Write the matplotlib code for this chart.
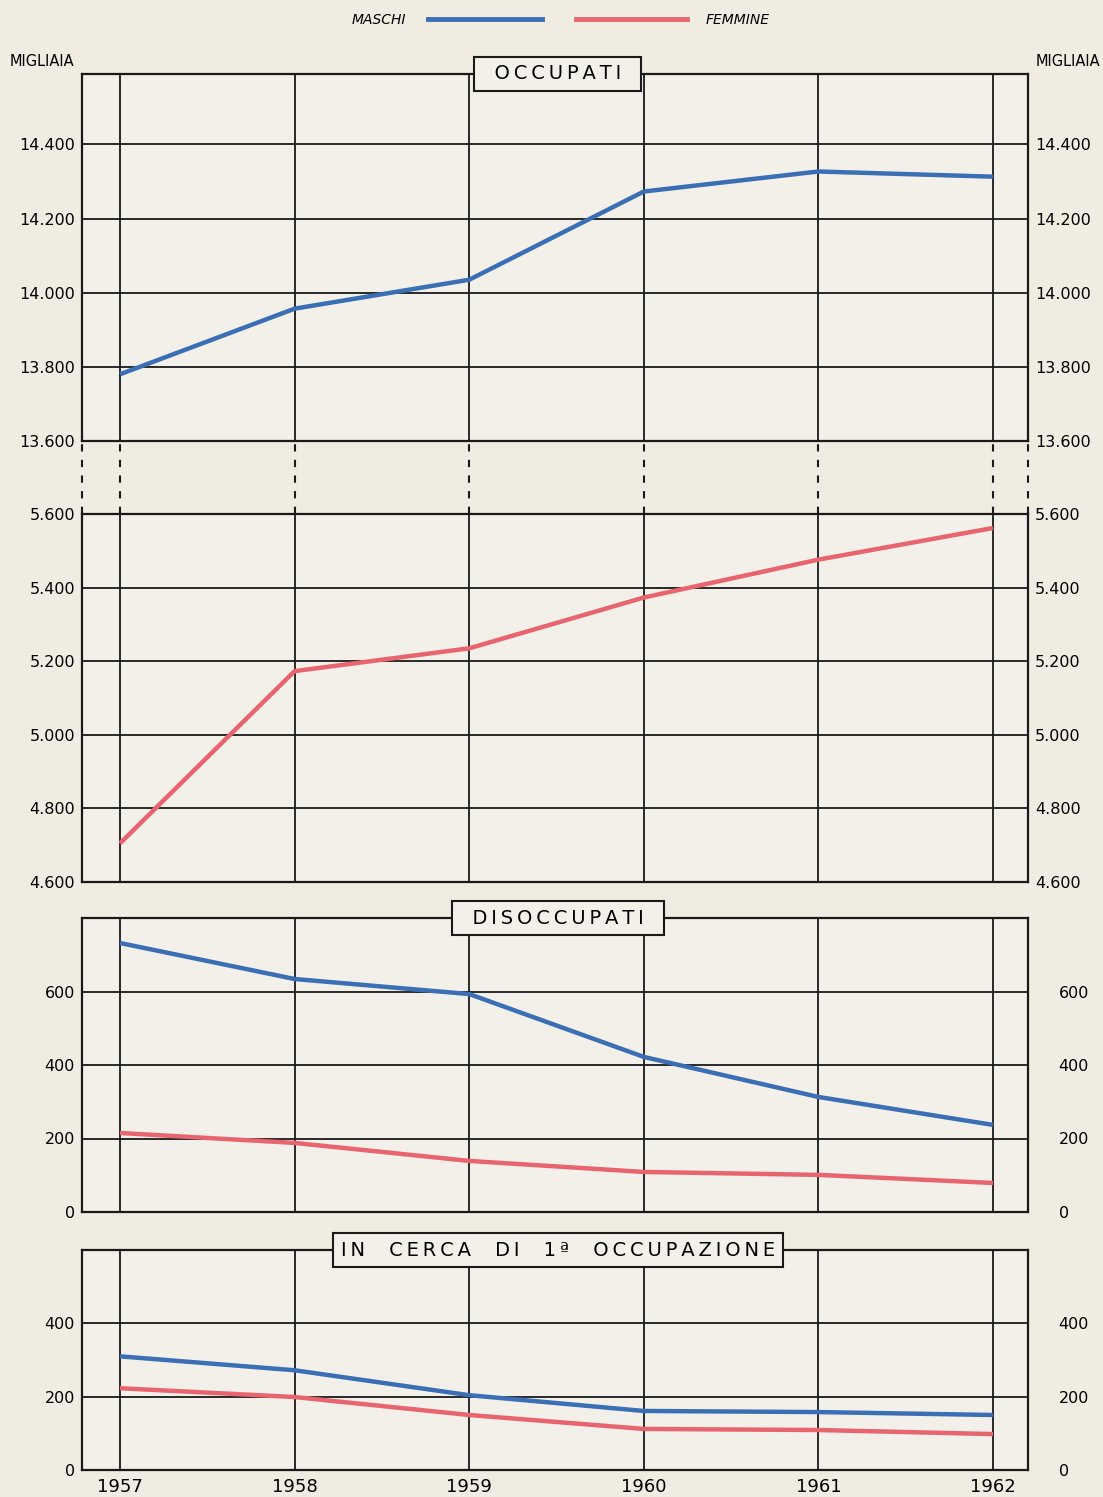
import numpy as np
import matplotlib
matplotlib.use('Agg')
import matplotlib.pyplot as plt
from matplotlib.lines import Line2D

# dati (migliaia)
anni = [1957, 1958, 1959, 1960, 1961, 1962]
occ_maschi = [13780, 13957, 14035, 14273, 14327, 14313]
occ_femmine = [4705, 5173, 5235, 5373, 5476, 5562]
dis_maschi = [732, 634, 593, 422, 313, 237]
dis_femmine = [215, 188, 139, 109, 101, 79]
cerca_maschi = [310, 272, 204, 161, 158, 150]
cerca_femmine = [223, 199, 150, 112, 109, 98]

tick_occ_m = [13600, 13800, 14000, 14200, 14400]
tick_occ_f = [4600, 4800, 5000, 5200, 5400, 5600]
tick_dis = [0, 200, 400, 600]
tick_cerca = [0, 200, 400]

BLU = '#3a6fb6'
ROSA = '#e8646f'
FONDO = '#f0ece2'
CARTA = '#f3f0e9'

W, H = 1103, 1497
X0, X1 = 82, 1028
XLIM = (1957 - 38 / 174.6, 1962 + 35 / 174.6)


def rect(top, bottom):
    return [X0 / W, 1 - bottom / H, (X1 - X0) / W, (bottom - top) / H]


def fmt(v):
    return f'{v:,}'.replace(',', '.')


def spaced(s):
    return '\u2009'.join(s)


fig = plt.figure(figsize=(W / 100, H / 100), dpi=100, facecolor=FONDO)
plt.rcParams['font.family'] = ['DejaVu Sans']


def pannello(top, bottom, ylim, ticks, pad_dx, bottom_labels=False):
    ax = fig.add_axes(rect(top, bottom))
    ax.set_facecolor(CARTA)
    ax.set_xlim(*XLIM)
    ax.set_ylim(*ylim)
    ax.set_xticks(anni)
    ax.set_yticks(ticks)
    ax.set_yticklabels([fmt(t) for t in ticks])
    ax.grid(True, color='#1a1a1a', lw=1.3)
    ax.set_axisbelow(True)
    for s in ax.spines.values():
        s.set_color('#1a1a1a')
        s.set_linewidth(1.6)
    ax.tick_params(axis='y', length=0, pad=5, labelsize=11.5,
                   labelright=False, right=False)
    ax.tick_params(axis='x', length=0, pad=6, labelsize=13,
                   labelbottom=bottom_labels)
    # etichette a destra
    tw = ax.twinx()
    tw.set_ylim(*ylim)
    tw.set_yticks(ticks)
    tw.set_yticklabels([fmt(t) for t in ticks])
    tw.tick_params(axis='y', length=0, pad=pad_dx, labelsize=11.5)
    for s in tw.spines.values():
        s.set_visible(False)
    return ax


ax1 = pannello(74, 441, (13600, 14590), tick_occ_m, 5)
ax2 = pannello(514, 882, (4600, 5600), tick_occ_f, 5)
ax3 = pannello(918, 1212, (0, 800), tick_dis, 22)
ax4 = pannello(1250, 1470, (0, 600), tick_cerca, 22, bottom_labels=True)

ax1.plot(anni, occ_maschi, color=BLU, lw=3.2, solid_capstyle='butt')
ax2.plot(anni, occ_femmine, color=ROSA, lw=3.2, solid_capstyle='butt')
ax3.plot(anni, dis_maschi, color=BLU, lw=3.2, solid_capstyle='butt')
ax3.plot(anni, dis_femmine, color=ROSA, lw=3.2, solid_capstyle='butt')
ax4.plot(anni, cerca_maschi, color=BLU, lw=3.2, solid_capstyle='butt')
ax4.plot(anni, cerca_femmine, color=ROSA, lw=3.2, solid_capstyle='butt')

# interruzione della scala tra maschi e femmine occupati
gap = fig.add_axes(rect(441, 514))
gap.set_xlim(*XLIM)
gap.set_ylim(0, 1)
gap.axis('off')
gap.vlines(anni + [XLIM[0], XLIM[1]], 0, 1, colors='#1a1a1a', lw=1.5,
           linestyles=(0, (3.5, 4)), clip_on=False)

# titoli dei pannelli
box = dict(boxstyle='square,pad=0.4', fc=CARTA, ec='#1a1a1a', lw=1.5)
for ax, titolo in [(ax1, '  ' + spaced('OCCUPATI') + '  '),
                   (ax3, '  ' + spaced('DISOCCUPATI') + '  '),
                   (ax4, spaced('IN  CERCA  DI  1ª  OCCUPAZIONE'))]:
    ax.text(0.503, 1.0, titolo, transform=ax.transAxes, ha='center',
            va='center', fontsize=14, bbox=box, zorder=5)

# unita di misura
fig.text(10 / W, 1 - 62 / H, 'MIGLIAIA', fontsize=10.5, ha='left', va='center')
fig.text(1100 / W, 1 - 62 / H, 'MIGLIAIA', fontsize=10.5, ha='right', va='center')

# legenda
h_m = Line2D([], [], color=BLU, lw=3.5)
h_f = Line2D([], [], color=ROSA, lw=3.5)
fig.legend([h_m], ['MASCHI'], loc='center right', markerfirst=False,
           bbox_to_anchor=(542 / W, 1 - 20 / H), frameon=False,
           handlelength=8.2, handletextpad=1.6, borderpad=0,
           borderaxespad=0, prop=dict(size=10, style='italic'))
fig.legend([h_f], ['FEMMINE'], loc='center left',
           bbox_to_anchor=(576 / W, 1 - 20 / H), frameon=False,
           handlelength=8.0, handletextpad=1.3, borderpad=0,
           borderaxespad=0, prop=dict(size=10, style='italic'))

fig.savefig('out.png', dpi=100, facecolor=FONDO)
